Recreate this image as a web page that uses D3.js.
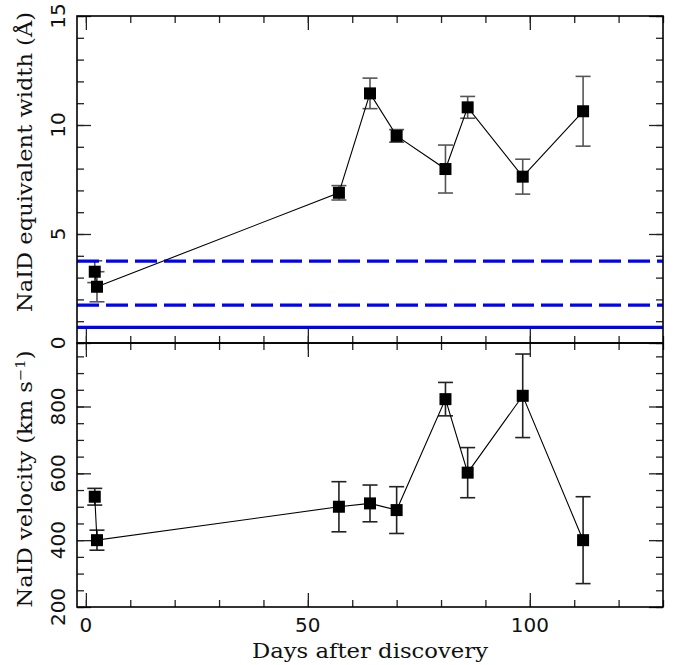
<!DOCTYPE html>
<html>
<head>
<meta charset="utf-8">
<script src="https://cdn.jsdelivr.net/npm/d3@7/dist/d3.min.js"></script>
<style>
  html, body { margin: 0; padding: 0; background: #fff; }
  svg { display: block; }
  .num { font-family: "DejaVu Sans", sans-serif; font-size: 20px; fill: #111; }
  .lab { font-family: "DejaVu Serif", serif; font-size: 20px; fill: #111; }
</style>
</head>
<body>
<svg id="chart" width="678" height="665"></svg>
<script>
// ---- data ----
const days = [2.0, 2.5, 57, 64, 70, 81, 86, 98.4, 112];
const ew = [3.27, 2.58, 6.89, 11.45, 9.5, 7.98, 10.81, 7.63, 10.63];
const ewErr = [0.5, 0.69, 0.33, 0.7, 0.29, 1.1, 0.5, 0.8, 1.6];
const vel = [530, 400, 500, 510, 490, 822, 602, 832, 400];
const velErr = [25, 30, 75, 55, 70, 50, 75, 125, 130];
// horizontal reference levels in the top panel
const refLevels = [3.76, 1.74, 0.72];
const refDashed = [true, true, false];

const xMajor = [0, 50, 100];
const xMinor = d3.range(0, 131, 10);
const ewMajor = [0, 5, 10, 15];
const ewMinor = d3.range(0, 16, 1);
const velMajor = [200, 400, 600, 800];
const velMinor = d3.range(200, 991, 50);

// ---- layout ----
const L = 77, R = 663, T = 16, M = 343, B = 607;
const svg = d3.select("#chart");

const x = d3.scaleLinear().domain([-2, 130]).range([L, R]);
const yTop = d3.scaleLinear().domain([0, 15]).range([M, T]);
const yBot = d3.scaleLinear().domain([200, 990]).range([B, M]);

// ---- ticks (all drawn inward) ----
function ticks(axis, vals, len, tx, ty) {
  const g = svg.append("g").attr("transform", `translate(${tx},${ty})`)
    .call(axis.tickValues(vals).tickSizeInner(-len).tickSizeOuter(0).tickFormat(""));
  g.select(".domain").remove();
  g.selectAll("line").attr("stroke", "#222").attr("stroke-width", 1.3);
  return g;
}
// top panel
ticks(d3.axisTop(x), xMinor, 7, 0, T);
ticks(d3.axisTop(x), xMajor, 14, 0, T);
ticks(d3.axisBottom(x), xMinor, 7, 0, M);
ticks(d3.axisBottom(x), xMajor, 14, 0, M);
ticks(d3.axisLeft(yTop), ewMinor, 7, L, 0);
ticks(d3.axisLeft(yTop), ewMajor, 14, L, 0);
ticks(d3.axisRight(yTop), ewMinor, 7, R, 0);
ticks(d3.axisRight(yTop), ewMajor, 14, R, 0);
// bottom panel
ticks(d3.axisTop(x), xMinor, 7, 0, M);
ticks(d3.axisTop(x), xMajor, 14, 0, M);
ticks(d3.axisBottom(x), xMinor, 7, 0, B);
ticks(d3.axisBottom(x), xMajor, 14, 0, B);
ticks(d3.axisLeft(yBot), velMinor, 7, L, 0);
ticks(d3.axisLeft(yBot), velMajor, 14, L, 0);
ticks(d3.axisRight(yBot), velMinor, 7, R, 0);
ticks(d3.axisRight(yBot), velMajor, 14, R, 0);

// ---- tick labels ----
function yLabels(scale, vals) {
  svg.append("g").selectAll("text").data(vals).join("text")
    .attr("class", "num")
    .attr("text-anchor", "middle")
    .attr("transform", (d) => `translate(${L - 12},${scale(d)}) rotate(-90)`)
    .text((d) => d);
}
yLabels(yTop, ewMajor);
yLabels(yBot, velMajor);

svg.append("g").selectAll("text").data(xMajor).join("text")
  .attr("class", "num")
  .attr("text-anchor", "middle")
  .attr("x", (d) => x(d))
  .attr("y", 632)
  .text((d) => d);

// ---- axis titles ----
svg.append("text").attr("class", "lab").attr("text-anchor", "middle")
  .attr("x", (L + R) / 2).attr("y", 658)
  .attr("textLength", 236).attr("lengthAdjust", "spacingAndGlyphs")
  .text("Days after discovery");

svg.append("text").attr("class", "lab").attr("text-anchor", "middle")
  .attr("transform", "translate(32,162) rotate(-90)")
  .attr("textLength", 300).attr("lengthAdjust", "spacingAndGlyphs")
  .text("NaID equivalent width (Å)");

const vt = svg.append("text").attr("class", "lab").attr("text-anchor", "middle")
  .attr("transform", "translate(32,479) rotate(-90)")
  .attr("textLength", 257).attr("lengthAdjust", "spacingAndGlyphs");
vt.append("tspan").text("NaID velocity (km s");
vt.append("tspan").attr("dy", -7).style("font-size", "13px").text("−1");
vt.append("tspan").attr("dy", 7).text(")");

// ---- panels ----
function panel(ys, vals, errs, errColor) {
  const pts = days.map((d, i) => ({ d, v: vals[i], e: errs[i] }));
  const eb = svg.append("g").attr("stroke", errColor).attr("stroke-width", 1.6);
  for (const p of pts) {
    const cx = x(p.d);
    eb.append("line").attr("x1", cx).attr("x2", cx).attr("y1", ys(p.v - p.e)).attr("y2", ys(p.v + p.e));
    eb.append("line").attr("x1", cx - 7.5).attr("x2", cx + 7.5).attr("y1", ys(p.v - p.e)).attr("y2", ys(p.v - p.e));
    eb.append("line").attr("x1", cx - 7.5).attr("x2", cx + 7.5).attr("y1", ys(p.v + p.e)).attr("y2", ys(p.v + p.e));
  }
  return pts;
}
function markers(ys, pts) {
  svg.append("path").datum(pts)
    .attr("fill", "none").attr("stroke", "#000").attr("stroke-width", 1.1)
    .attr("d", d3.line().x((p) => x(p.d)).y((p) => ys(p.v)));
  svg.append("g").selectAll("rect").data(pts).join("rect")
    .attr("x", (p) => x(p.d) - 6).attr("y", (p) => ys(p.v) - 6)
    .attr("width", 12).attr("height", 12).attr("fill", "#000");
}

const topPts = panel(yTop, ew, ewErr, "#555");
svg.append("g").selectAll("line").data(refLevels).join("line")
  .attr("x1", L).attr("x2", R)
  .attr("y1", (d) => yTop(d)).attr("y2", (d) => yTop(d))
  .attr("stroke", "#0000ff").attr("stroke-width", 3.2)
  .attr("stroke-dasharray", (d, i) => (refDashed[i] ? "22,7" : null));
markers(yTop, topPts);

const botPts = panel(yBot, vel, velErr, "#222");
markers(yBot, botPts);

// ---- frames ----
svg.append("rect").attr("x", L).attr("y", T).attr("width", R - L).attr("height", M - T)
  .attr("fill", "none").attr("stroke", "#000").attr("stroke-width", 1.6);
svg.append("rect").attr("x", L).attr("y", M).attr("width", R - L).attr("height", B - M)
  .attr("fill", "none").attr("stroke", "#000").attr("stroke-width", 1.6);
</script>
</body>
</html>
